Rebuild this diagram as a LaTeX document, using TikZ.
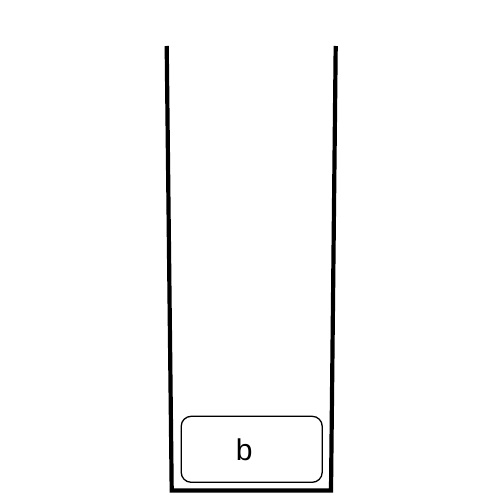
\documentclass[tikz,border=0pt]{standalone}
\usepackage{fontspec}
\setmainfont{Liberation Sans}

\begin{document}
\begin{tikzpicture}[x=1pt,y=-1pt,
	wall/.style={line width=4.2pt, line join=miter},
	block/.style={draw, line width=1.3pt, rounded corners=10pt, minimum width=141pt, minimum height=66pt, inner sep=0pt, font=\fontsize{30}{30}\selectfont}]

	\useasboundingbox (0,0) rectangle (503,503);

	%container corners
	\coordinate (topL) at (166.7,46);
	\coordinate (botL) at (171.7,490.5);
	\coordinate (botR) at (331,490.5);
	\coordinate (topR) at (335.7,46);

	%container walls
	\draw[wall] (topL) -- (botL) -- (botR) -- (topR);

	%block resting on the bottom, its letter sits a little left of centre
	\node[block] (blockB) at (251.7,449.3) {\hspace*{-15pt}b};

\end{tikzpicture}
\end{document}
